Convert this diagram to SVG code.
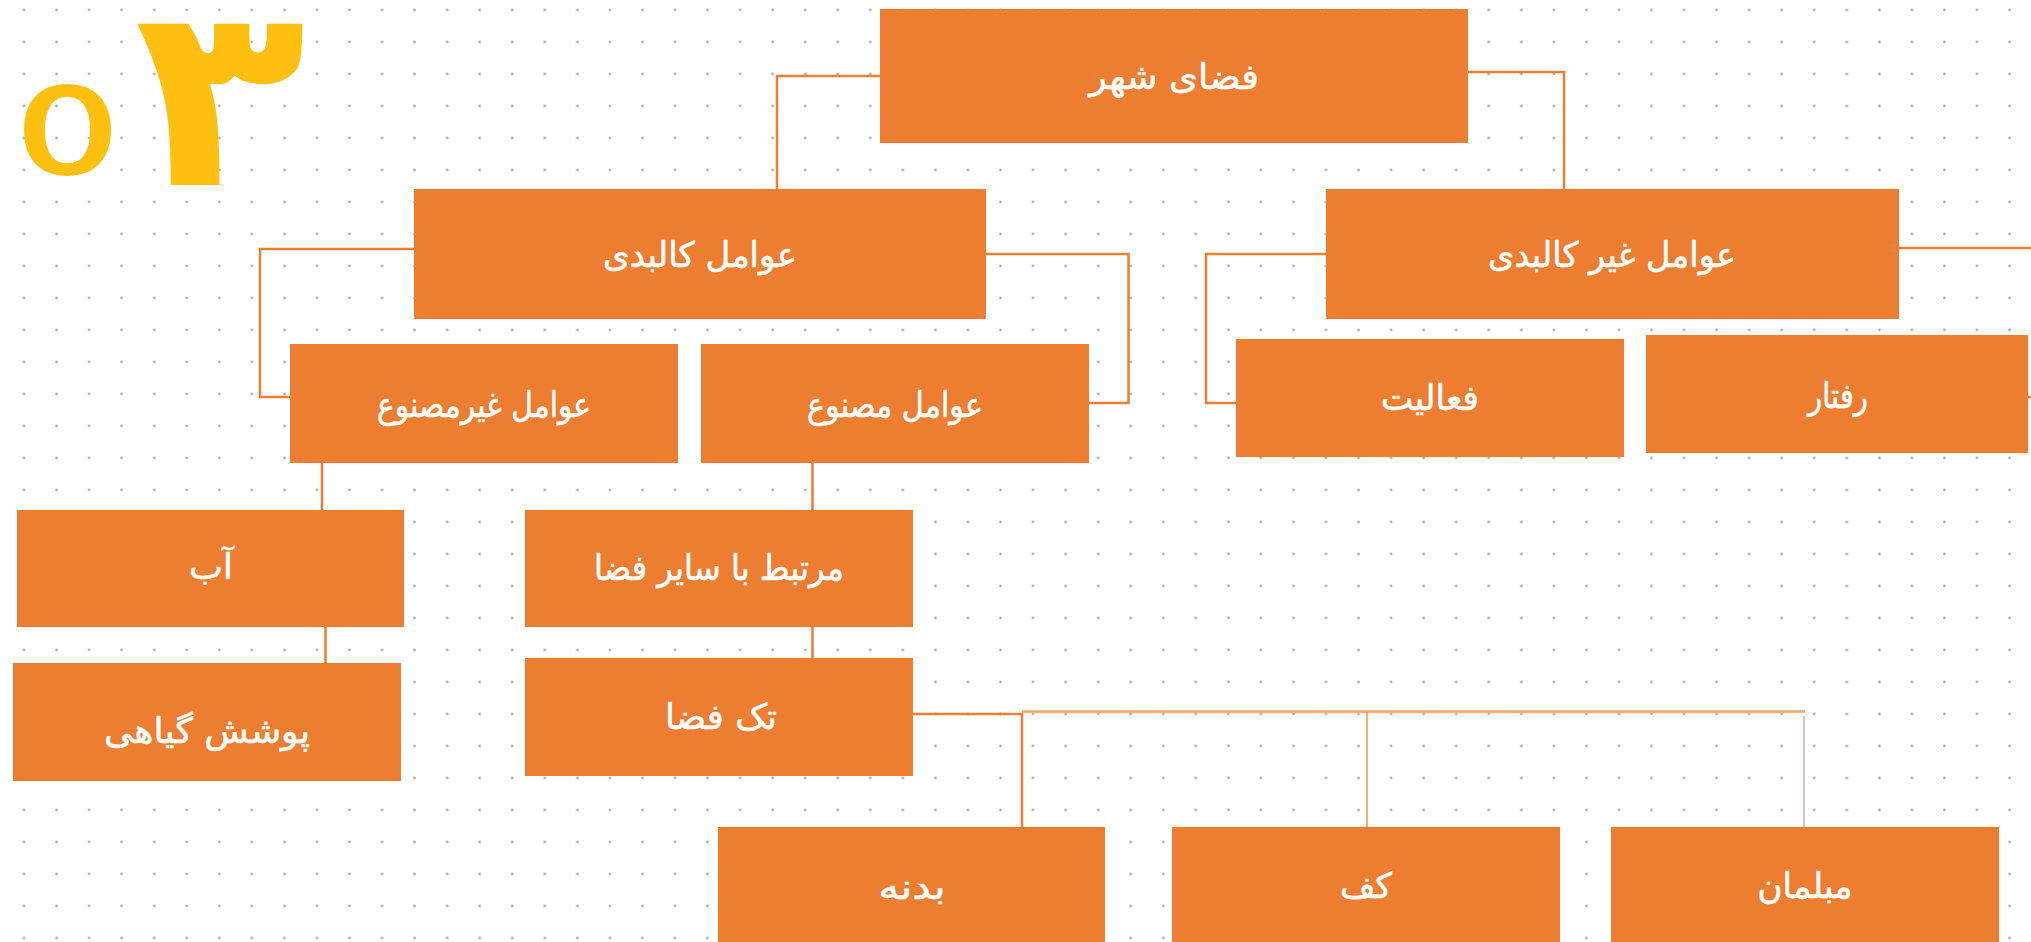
<svg xmlns="http://www.w3.org/2000/svg" width="2031" height="942" viewBox="0 0 2031 942">
<style>
.box{fill:#ED7D31;}
.lbl{font-family:"DejaVu Sans","Noto Sans",sans-serif;fill:#FFFFFF;stroke:#FFFFFF;stroke-width:0.6;text-anchor:middle;font-size:35px;}
.conn{fill:none;stroke:#ED7D31;stroke-width:2.5;}
.thin{fill:none;stroke-width:1.3;}
.num{fill:#FDC010;font-weight:bold;}
</style>
<defs>
<pattern id="dots" patternUnits="userSpaceOnUse" x="7.7" y="-6" width="32.55" height="32">
<circle cx="16.3" cy="16" r="1.4" fill="#AEAEAE"/>
</pattern>
</defs>
<rect width="2031" height="942" fill="#FFFFFF"/>
<rect width="2031" height="942" fill="url(#dots)"/>

<g id="section-number">
<text class="num" x="20" y="175" font-family="Lato, 'Liberation Sans', sans-serif" font-size="125" textLength="95" lengthAdjust="spacingAndGlyphs">0</text>
<text class="num" x="220" y="185" font-family="'DejaVu Sans', sans-serif" font-size="254" text-anchor="middle" textLength="172" lengthAdjust="spacingAndGlyphs">۳</text>
</g>

<g id="connectors">
<path class="conn" d="M880,76 H777 V189"/>
<path class="conn" d="M1468,72 H1564 V189"/>
<path class="conn" d="M414,249 H260 V397 H290"/>
<path class="conn" d="M986,254 H1128.5 V403 H1089"/>
<path class="conn" d="M1326,254 H1206 V403 H1236"/>
<path class="conn" d="M1899,248 H2045 V397 H2028"/>
<path class="conn" d="M322,463 V510"/>
<path class="conn" d="M325.5,627 V663"/>
<path class="conn" d="M812.5,463 V510"/>
<path class="conn" d="M812.5,627 V658"/>
<path class="conn" d="M913,714 H1022 V827"/>
<path class="conn" d="M1022,711.5 H1805" style="stroke:#F3A46C"/>
<path class="thin" d="M1367,712 V827" stroke="#ED7D31"/>
<path class="thin" d="M1804,716 V827" stroke="#C9A48C"/>
</g>

<g id="n-fazaye-shahr"><rect class="box" x="880" y="9" width="588" height="134"/><text class="lbl" x="1174" y="89" font-size="39" textLength="170" lengthAdjust="spacingAndGlyphs">فضای شهر</text></g>
<g id="n-kalbadi"><rect class="box" x="414" y="189" width="572" height="130"/><text class="lbl" x="700" y="267" textLength="194" lengthAdjust="spacingAndGlyphs">عوامل کالبدی</text></g>
<g id="n-gheir-kalbadi"><rect class="box" x="1326" y="189" width="573" height="130"/><text class="lbl" x="1612" y="267" font-size="34" textLength="248" lengthAdjust="spacingAndGlyphs">عوامل غیر کالبدی</text></g>
<g id="n-gheir-masnoo"><rect class="box" x="290" y="344" width="388" height="119"/><text class="lbl" x="484" y="417" font-size="27" textLength="214" lengthAdjust="spacingAndGlyphs">عوامل غیرمصنوع</text></g>
<g id="n-masnoo"><rect class="box" x="701" y="344" width="388" height="119"/><text class="lbl" x="895" y="417" font-size="27.5" textLength="176" lengthAdjust="spacingAndGlyphs">عوامل مصنوع</text></g>
<g id="n-faaliat"><rect class="box" x="1236" y="339" width="388" height="118"/><text class="lbl" x="1430" y="410" font-size="35" textLength="98" lengthAdjust="spacingAndGlyphs">فعالیت</text></g>
<g id="n-raftar"><rect class="box" x="1646" y="335" width="382" height="118"/><text class="lbl" x="1838" y="408" font-size="32" textLength="60" lengthAdjust="spacingAndGlyphs">رفتار</text></g>
<g id="n-ab"><rect class="box" x="17" y="510" width="387" height="117"/><text class="lbl" x="211" y="579" font-size="38" textLength="44" lengthAdjust="spacingAndGlyphs">آب</text></g>
<g id="n-mortabet"><rect class="box" x="525" y="510" width="388" height="117"/><text class="lbl" x="719" y="580" font-size="33" textLength="250" lengthAdjust="spacingAndGlyphs">مرتبط با سایر فضا</text></g>
<g id="n-pooshesh"><rect class="box" x="13" y="663" width="388" height="118"/><text class="lbl" x="207" y="743" font-size="38" textLength="206" lengthAdjust="spacingAndGlyphs">پوشش گیاهی</text></g>
<g id="n-tak-faza"><rect class="box" x="525" y="658" width="388" height="118"/><text class="lbl" x="721" y="729" font-size="38" textLength="112" lengthAdjust="spacingAndGlyphs">تک فضا</text></g>
<g id="n-badane"><rect class="box" x="718" y="827" width="387" height="120"/><text class="lbl" x="912" y="899" font-size="42" textLength="67" lengthAdjust="spacingAndGlyphs">بدنه</text></g>
<g id="n-kaf"><rect class="box" x="1172" y="827" width="388" height="120"/><text class="lbl" x="1366" y="898" font-size="40" textLength="52" lengthAdjust="spacingAndGlyphs">کف</text></g>
<g id="n-mobleman"><rect class="box" x="1611" y="827" width="388" height="120"/><text class="lbl" x="1805" y="898" font-size="35" textLength="95" lengthAdjust="spacingAndGlyphs">مبلمان</text></g>
</svg>
